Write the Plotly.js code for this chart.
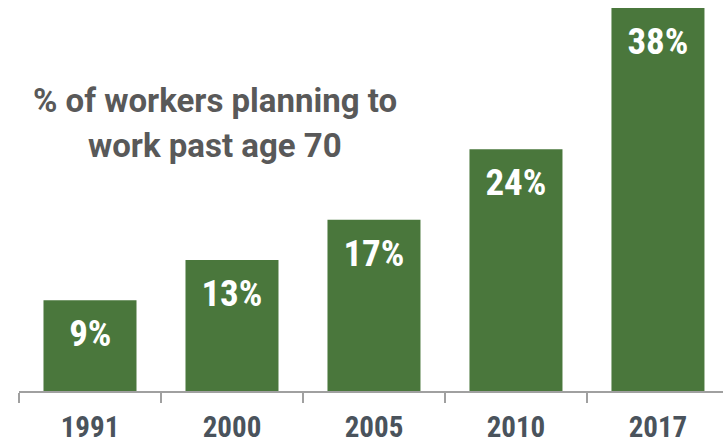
<!DOCTYPE html>
<html><head><meta charset="utf-8">
<script src="https://cdn.plot.ly/plotly-3.0.1.min.js"></script>
<style>html,body{margin:0;padding:0;background:#fff}#chart{width:723px;height:445px}
.xtick text{font-stretch:75%}
</style>
</head><body><div id="chart"></div>
<script>
const years = ['1991','2000','2005','2010','2017'];
const shares = [9, 13, 17, 24, 38];
const labels = ['9%','13%','17%','24%','38%'];
const titleLines = ['% of workers planning to', 'work past age 70'];

const FONT = 'Roboto, "Liberation Sans", sans-serif';
const GREEN = '#4a773c';

const trace = {
  type: 'bar', x: years, y: shares, width: 0.655,
  marker: {color: GREEN}, hoverinfo: 'none'
};

const annotations = years.map((y, i) => ({
  x: i, y: shares[i], xref: 'x', yref: 'y', yanchor: 'top', yshift: -10,
  text: labels[i], showarrow: false, name: 'barlabel',
  font: {family: FONT, size: 37, color: '#ffffff', weight: 'bold'}
}));
annotations.push({
  x: 0.278, y: 0.742, xref: 'paper', yref: 'paper', xanchor: 'center', yanchor: 'middle',
  text: titleLines[0], showarrow: false,
  font: {family: FONT, size: 33, color: '#595959', weight: 'bold'}
});
annotations.push({
  x: 0.278, y: 0.627, xref: 'paper', yref: 'paper', xanchor: 'center', yanchor: 'middle',
  text: titleLines[1], showarrow: false,
  font: {family: FONT, size: 33, color: '#595959', weight: 'bold'}
});

const layout = {
  width: 723, height: 445,
  margin: {l: 19, r: 0, t: 0, b: 54},
  paper_bgcolor: '#ffffff', plot_bgcolor: '#ffffff',
  showlegend: false,
  xaxis: {
    type: 'category', range: [-0.5, 4.458],
    showline: true, linecolor: '#a0a0a0', linewidth: 2,
    ticks: 'outside', tickson: 'boundaries', ticklen: 10, tickwidth: 2, tickcolor: '#a0a0a0',
    ticklabelstandoff: 9,
    tickfont: {family: FONT, size: 29, color: '#4a535c', weight: 'bold'},
    showgrid: false, zeroline: false, fixedrange: true
  },
  yaxis: {
    range: [0, 38.8], visible: false, showgrid: false, zeroline: false, fixedrange: true
  },
  annotations: annotations
};

Plotly.newPlot('chart', [trace], layout, {displayModeBar: false, staticPlot: true}).then(function(gd){
  const anns = gd.querySelectorAll('.annotation');
  anns.forEach(function(a){
    const t = a.querySelector('text');
    if (t && t.textContent.indexOf('%') > 0 && t.textContent.length <= 3) {
      t.style.fontStretch = '75%';
    }
  });
});
</script></body></html>
